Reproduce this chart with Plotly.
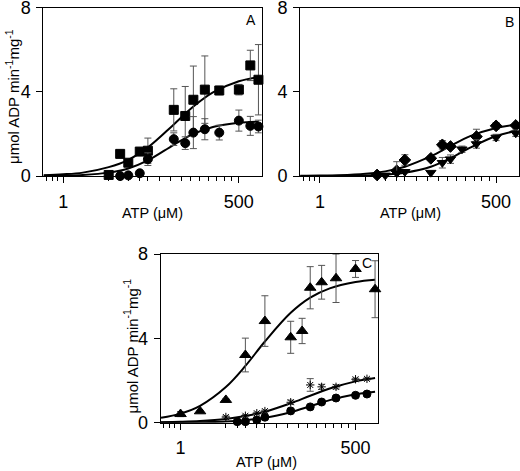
import plotly.graph_objects as go
import math

W, H = 520, 471

# ---------------- axes / ticks ----------------
MAJOR_TICKS = [1, 500]
MAJOR_LABELS = ["1", "500"]
MINOR_TICKS = [0.55, 0.68, 0.82, 5, 7.5, 10, 15, 20, 30, 45, 65, 90, 125, 170, 230, 300, 390]
Y_TICKS = [0, 4, 8]
Y_LABELS = ["0", "4", "8"]

# ---------------- Panel A ----------------
A_sq_x = [5, 7.5, 10, 15, 20, 50, 75, 100, 150, 250, 500, 750, 1000]
A_sq_y = [0.05, 1.05, 0.63, 1.16, 1.2, 3.14, 2.85, 3.62, 4.1, 4.06, 4.1, 5.25, 4.57]
A_sq_e = [0.0, 0.0, 0.0, 0.0, 0.6, 1.0, 1.4, 1.6, 1.6, 0.2, 0.25, 0.72, 1.67]
A_ci_x = [7.5, 10, 15, 20, 50, 75, 100, 150, 250, 500, 750, 1000]
A_ci_y = [0.0, 0.03, 0.13, 0.8, 1.75, 1.56, 2.06, 2.22, 2.06, 2.63, 2.38, 2.35]
A_ci_e = [0, 0, 0, 0.3, 0.3, 0.3, 0.76, 0.5, 0.35, 0.5, 0.45, 0.3]

# fitted curves
CURVE_X = [0.5, 1, 2, 5, 10, 20, 50, 100, 200, 500, 1000]
A_fit_sq = [0.04, 0.08, 0.16, 0.42, 0.77, 1.36, 2.45, 3.30, 3.97, 4.50, 4.70]
A_fit_ci = [0.008, 0.02, 0.05, 0.16, 0.36, 0.74, 1.48, 2.0, 2.33, 2.53, 2.58]

# ---------------- Panel B ----------------
B_di_x = [7.5, 15, 20, 50, 75, 100, 250, 500, 1000]
B_di_y = [0.05, 0.25, 0.76, 0.84, 1.48, 1.4, 1.87, 2.38, 2.4]
B_di_e = [0, 0, 0.25, 0.1, 0.2, 0.1, 0.35, 0.15, 0.08]
B_tr_x = [10, 15, 20, 50, 75, 100, 150, 250, 500, 1000]
B_tr_y = [0.03, 0.13, 0.2, 0.16, 0.63, 0.8, 1.27, 1.52, 1.83, 2.03]
B_tr_e = [0, 0.55, 0, 0, 0.25, 0.2, 0.15, 0.2, 0.15, 0.15]
B_fit_di = [0.009, 0.018, 0.04, 0.11, 0.22, 0.44, 0.94, 1.43, 1.89, 2.28, 2.43]
B_fit_tr = [0.002, 0.004, 0.009, 0.029, 0.068, 0.158, 0.44, 0.84, 1.345, 1.90, 2.14]

# ---------------- Panel C ----------------
C_up_x = [1, 2, 5, 10, 20, 50, 75, 100, 150, 250, 500, 1000]
C_up_y = [0.41, 0.54, 1.08, 3.21, 4.82, 4.05, 4.35, 6.4, 6.66, 6.85, 7.29, 6.33]
C_up_e = [0.12, 0.05, 0.05, 0.8, 1.2, 0.76, 0.6, 1.0, 0.8, 1.15, 0.4, 1.35]
C_st_x = [5, 10, 15, 20, 50, 100, 150, 250, 500, 750]
C_st_y = [0.27, 0.33, 0.45, 0.55, 0.97, 1.79, 1.7, 1.7, 2.06, 2.08]
C_st_e = [0.05, 0.05, 0.05, 0.05, 0.1, 0.3, 0.12, 0.1, 0.05, 0.05]
C_ci_x = [7.5, 10, 15, 20, 50, 100, 150, 250, 500, 750]
C_ci_y = [0.05, 0.05, 0.13, 0.26, 0.56, 0.75, 0.98, 1.17, 1.3, 1.36]
C_ci_e = [0, 0, 0, 0, 0.05, 0.05, 0.05, 0.05, 0.05, 0.05]
C_fit_up = [0.23, 0.43, 0.80, 1.69, 2.69, 3.85, 5.21, 5.93, 6.37, 6.67, 6.78]
C_fit_st = [0.025, 0.046, 0.084, 0.18, 0.315, 0.52, 0.92, 1.28, 1.62, 1.96, 2.12]
C_fit_ci = [0.005, 0.011, 0.023, 0.059, 0.12, 0.23, 0.50, 0.78, 1.07, 1.35, 1.47]

PANEL_LABELS = ["A", "B", "C"]
Y_TITLE = "\u03bcmol ADP min<sup>-1</sup>mg<sup>-1</sup>"
X_TITLE = "ATP (\u03bcM)"

FONT = "Liberation Sans, Arial, sans-serif"
ERR_COLOR = "#555555"

fig = go.Figure()


def add_points(x, y, e, symbol, size, xa, ya):
    fig.add_trace(go.Scatter(
        x=x, y=y, mode="markers", xaxis=xa, yaxis=ya,
        marker=dict(symbol=symbol, size=size, color="black",
                    line=dict(color="black", width=1)),
        error_y=dict(type="data", array=e, visible=True, color=ERR_COLOR,
                     thickness=1, width=3.5),
        cliponaxis=False, showlegend=False))


def add_curve(y, xa, ya):
    fig.add_trace(go.Scatter(
        x=CURVE_X, y=y, mode="lines", xaxis=xa, yaxis=ya,
        line=dict(color="black", width=2, shape="spline", smoothing=1.0),
        showlegend=False))


# Panel A
add_curve(A_fit_sq, "x", "y")
add_curve(A_fit_ci, "x", "y")
add_points(A_sq_x, A_sq_y, A_sq_e, "square", 9, "x", "y")
add_points(A_ci_x, A_ci_y, A_ci_e, "circle", 9, "x", "y")
# Panel B
add_curve(B_fit_di, "x2", "y2")
add_curve(B_fit_tr, "x2", "y2")
add_points(B_di_x, B_di_y, B_di_e, "diamond", 9, "x2", "y2")
add_points(B_tr_x, B_tr_y, B_tr_e, "triangle-down", 9, "x2", "y2")
# Panel C
add_curve(C_fit_up, "x3", "y3")
add_curve(C_fit_st, "x3", "y3")
add_curve(C_fit_ci, "x3", "y3")
add_points(C_up_x, C_up_y, C_up_e, "triangle-up", 10, "x3", "y3")
add_points(C_st_x, C_st_y, C_st_e, "asterisk-open", 7, "x3", "y3")
add_points(C_ci_x, C_ci_y, C_ci_e, "circle", 8, "x3", "y3")

XRANGE = [math.log10(0.5) - 0.005, 3.05]


def xaxis(domain, anchor):
    return dict(
        type="log", range=XRANGE, domain=domain, anchor=anchor,
        automargin=False,
        tickmode="array", tickvals=MAJOR_TICKS, ticktext=MAJOR_LABELS,
        ticks="outside", ticklen=6, tickwidth=1, tickcolor="black",
        minor=dict(tickmode="array", tickvals=MINOR_TICKS, ticks="outside",
                   ticklen=4, tickwidth=1, tickcolor="black", showgrid=False),
        ticklabelstandoff=3, ticklabeloverflow="allow",
        showline=True, linecolor="black", linewidth=1, mirror=True,
        showgrid=False, zeroline=False,
        tickfont=dict(family=FONT, size=18, color="black"))


def yaxis(domain, anchor):
    return dict(
        range=[0, 8], domain=domain, anchor=anchor,
        automargin=False,
        tickmode="array", tickvals=Y_TICKS, ticktext=Y_LABELS,
        ticks="outside", ticklen=6, tickwidth=1, tickcolor="black",
        ticklabelstandoff=2, ticklabeloverflow="allow",
        showline=True, linecolor="black", linewidth=1, mirror=True,
        showgrid=False, zeroline=False,
        tickfont=dict(family=FONT, size=18, color="black"))


def px_x(p):
    return p / W


def px_y(p):
    return 1 - p / H


A_xd = [px_x(43.3), px_x(261.7)]
B_xd = [px_x(300), px_x(519)]
C_xd = [px_x(160.7), px_x(378.3)]
AB_yd = [px_y(176), px_y(7.5)]
C_yd = [px_y(422.7), px_y(254)]

annotations = []
# panel letters
for lab, (xx, yy) in zip(PANEL_LABELS, [(251, 20), (509, 22), (367, 263)]):
    annotations.append(dict(x=px_x(xx), y=px_y(yy), xref="paper", yref="paper",
                            text=lab, showarrow=False, xanchor="center", yanchor="middle",
                            font=dict(family=FONT, size=14, color="black")))
# y titles (panels A and C)
for (xx, yy) in [(13, 97), (130.5, 346)]:
    annotations.append(dict(x=px_x(xx), y=px_y(yy), xref="paper", yref="paper",
                            text=Y_TITLE, showarrow=False, textangle=-90,
                            xanchor="center", yanchor="middle",
                            font=dict(family=FONT, size=15, color="black")))
# x titles
for (xx, yy) in [(152, 213), (410, 213), (266, 462)]:
    annotations.append(dict(x=px_x(xx), y=px_y(yy), xref="paper", yref="paper",
                            text=X_TITLE, showarrow=False,
                            xanchor="center", yanchor="middle",
                            font=dict(family=FONT, size=14.5, color="black")))

fig.update_layout(
    width=W, height=H,
    margin=dict(l=0, r=0, t=0, b=0, autoexpand=False),
    paper_bgcolor="white", plot_bgcolor="white",
    xaxis=xaxis(A_xd, "y"), yaxis=yaxis(AB_yd, "x"),
    xaxis2=xaxis(B_xd, "y2"), yaxis2=yaxis(AB_yd, "x2"),
    xaxis3=xaxis(C_xd, "y3"), yaxis3=yaxis(C_yd, "x3"),
    annotations=annotations,
    showlegend=False,
)

fig.write_html(
    "out.html",
    config={"displayModeBar": False},
    post_script="document.body.style.margin='0';document.body.style.padding='0';"
                "document.body.style.overflow='hidden';",
)
